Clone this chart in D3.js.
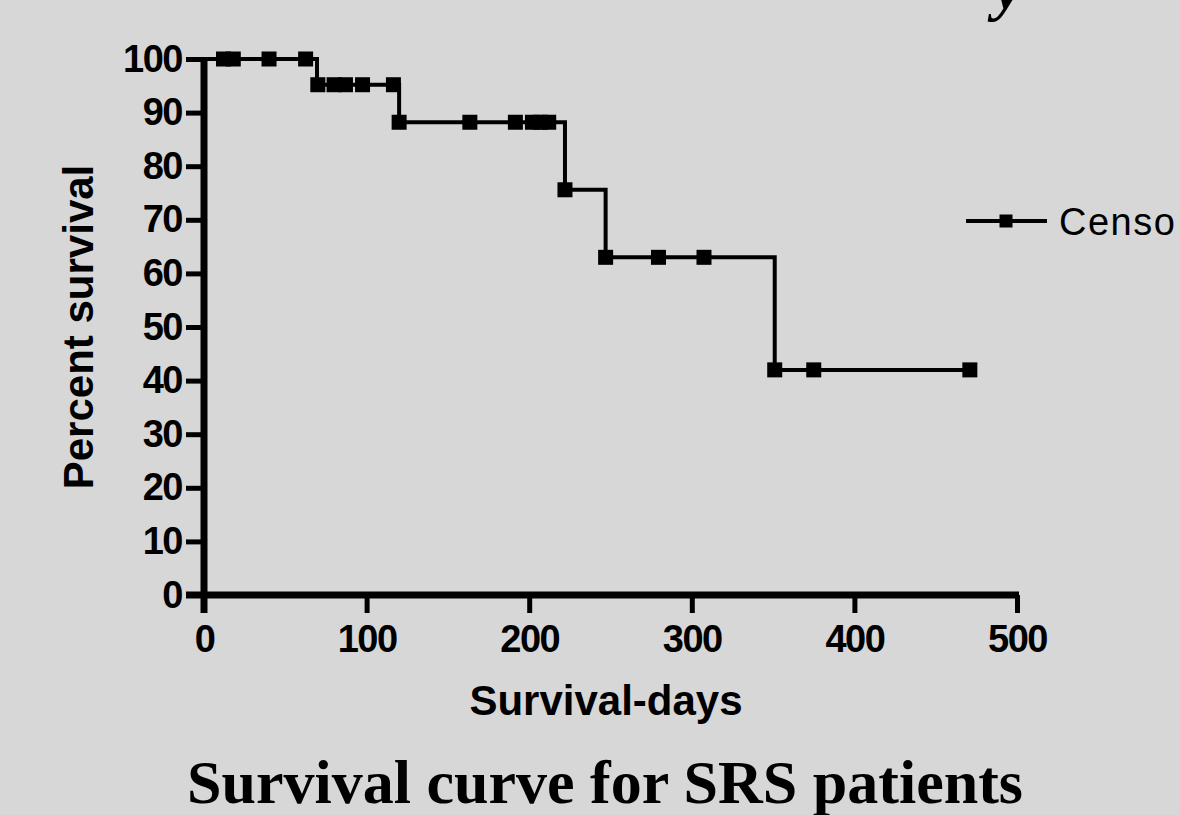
<!DOCTYPE html>
<html>
<head>
<meta charset="utf-8">
<script src="https://cdn.jsdelivr.net/npm/d3@7"></script>
<style>
  html, body { margin: 0; padding: 0; background: #d7d7d7; }
  svg { display: block; }
</style>
</head>
<body>
<svg id="chart" width="1180" height="815"></svg>
<script>
// ---- Data ----
const eventDays   = [0, 69.5, 120, 222, 247, 351, 471];
const eventSurv   = [100, 95.2, 88.2, 75.6, 63.0, 42.0, 42.0];
const censorDays  = [12, 18, 40, 62.5, 70, 80, 87, 97.5, 116.5, 120, 163.5, 191.5, 202, 207, 212, 222, 247, 279.5, 307.5, 351, 375, 471];
const censorSurv  = [100, 100, 100, 100, 95.2, 95.2, 95.2, 95.2, 95.2, 88.2, 88.2, 88.2, 88.2, 88.2, 88.2, 75.6, 63.0, 63.0, 63.0, 42.0, 42.0, 42.0];
const xTicks = [0, 100, 200, 300, 400, 500];
const yTicks = [0, 10, 20, 30, 40, 50, 60, 70, 80, 90, 100];
const seriesName = "Censo";
const xTitle = "Survival-days";
const yTitle = "Percent survival";
const chartTitle = "Survival curve for SRS patients";

const svg = d3.select("#chart");
const sans = "'Liberation Sans', Arial, Helvetica, sans-serif";
const serif = "'Liberation Serif', 'Times New Roman', serif";

svg.append("rect").attr("width", 1180).attr("height", 815).attr("fill", "#d7d7d7");

const x = d3.scaleLinear().domain([0, 500]).range([204, 1017]);
const y = d3.scaleLinear().domain([0, 100]).range([595, 59]);

// cut-off glyph of a title above the frame
svg.append("text")
  .attr("x", 994).attr("y", 8)
  .attr("font-family", serif).attr("font-weight", "bold").attr("font-style", "italic")
  .attr("font-size", 64).attr("fill", "#000")
  .text("y");

// Y axis
const yAxis = d3.axisLeft(y).tickValues(yTicks).tickSize(18).tickSizeOuter(0).tickPadding(4);
const gy = svg.append("g").attr("transform", `translate(${x(0)},0)`).call(yAxis);
gy.select(".domain").remove();
gy.selectAll(".tick line").attr("stroke", "#000").attr("stroke-width", 5);
gy.selectAll(".tick text")
  .attr("font-family", sans).attr("font-weight", "bold").attr("font-size", 38)
  .attr("letter-spacing", "-1.5px").attr("fill", "#000");

// X axis
const xAxis = d3.axisBottom(x).tickValues(xTicks).tickSize(18).tickSizeOuter(0).tickPadding(12);
const gx = svg.append("g").attr("transform", `translate(0,${y(0)})`).call(xAxis);
gx.select(".domain").remove();
gx.selectAll(".tick line").attr("stroke", "#000").attr("stroke-width", 5);
gx.selectAll(".tick text")
  .attr("font-family", sans).attr("font-weight", "bold").attr("font-size", 38)
  .attr("letter-spacing", "-1.5px").attr("fill", "#000");

// axis lines (thick, GraphPad style)
svg.append("line")
  .attr("x1", x(0)).attr("x2", x(0))
  .attr("y1", y(100) - 2).attr("y2", y(0) + 18)
  .attr("stroke", "#000").attr("stroke-width", 7);
svg.append("line")
  .attr("x1", x(0) - 18).attr("x2", x(500) + 2)
  .attr("y1", y(0)).attr("y2", y(0))
  .attr("stroke", "#000").attr("stroke-width", 7);

// Kaplan-Meier step curve
const pts = eventDays.map((d, i) => [d, eventSurv[i]]);
const line = d3.line().x(d => x(d[0])).y(d => y(d[1])).curve(d3.curveStepAfter);
svg.append("path")
  .attr("d", line(pts))
  .attr("fill", "none").attr("stroke", "#000").attr("stroke-width", 4)
  .attr("stroke-linejoin", "miter");

// censor markers
const ms = 15;
svg.append("g").selectAll("rect")
  .data(censorDays.map((d, i) => [d, censorSurv[i]]))
  .join("rect")
  .attr("x", d => x(d[0]) - ms / 2)
  .attr("y", d => y(d[1]) - ms / 2)
  .attr("width", ms).attr("height", ms)
  .attr("fill", "#000");

// legend
const lg = svg.append("g").attr("transform", "translate(966,221)");
lg.append("line").attr("x1", 0).attr("x2", 81).attr("y1", 0).attr("y2", 0)
  .attr("stroke", "#000").attr("stroke-width", 4);
lg.append("rect").attr("x", 40 - 6.5).attr("y", -6.5).attr("width", 13).attr("height", 13).attr("fill", "#000");
lg.append("text").attr("x", 93)
  .attr("font-family", sans).attr("font-size", 38).attr("letter-spacing", "1.5px")
  .attr("fill", "#000")
  .attr("y", 0).attr("dy", "0.36em")
  .text(seriesName);

// axis titles
svg.append("text")
  .attr("x", 606).attr("y", 715)
  .attr("text-anchor", "middle")
  .attr("font-family", sans).attr("font-weight", "bold").attr("font-size", 42)
  .attr("fill", "#000")
  .text(xTitle);

svg.append("text")
  .attr("transform", "rotate(-90)")
  .attr("x", -327).attr("y", 93)
  .attr("text-anchor", "middle")
  .attr("font-family", sans).attr("font-weight", "bold").attr("font-size", 42)
  .attr("fill", "#000")
  .text(yTitle);

// chart title
svg.append("text")
  .attr("x", 605).attr("y", 803)
  .attr("text-anchor", "middle")
  .attr("font-family", serif).attr("font-weight", "bold").attr("font-size", 62)
  .attr("fill", "#000")
  .text(chartTitle);
</script>
</body>
</html>
